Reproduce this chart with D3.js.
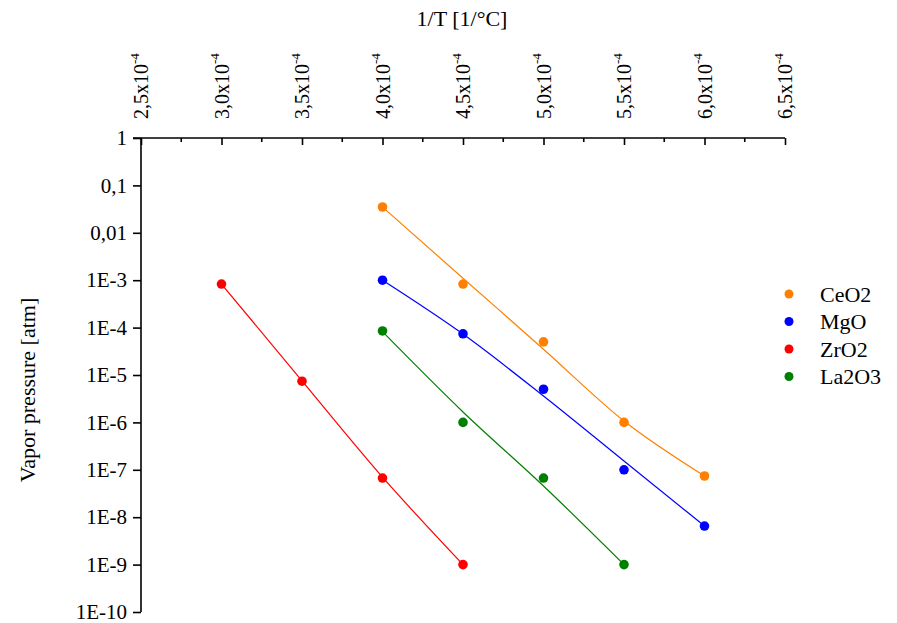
<!DOCTYPE html>
<html>
<head>
<meta charset="utf-8">
<script src="https://cdn.jsdelivr.net/npm/d3@7"></script>
<style>
  body { margin: 0; background: #fff; }
  svg text { font-family: "Liberation Serif", "Times New Roman", serif; }
</style>
</head>
<body>
<div id="chart"></div>
<script>
// measured points (1/T in 1/°C, vapor pressure in atm)
const ceX = [4.0e-4, 4.5e-4, 5.0e-4, 5.5e-4, 6.0e-4];
const ceY = [3.5e-2, 8.3e-4, 5.0e-5, 1.0e-6, 7.4e-8];
const ceFit = [3.5e-2, 1.1e-3, 3.5e-5, 1.07e-6, 7.4e-8];

const mgX = [4.0e-4, 4.5e-4, 5.0e-4, 5.5e-4, 6.0e-4];
const mgY = [1.0e-3, 7.4e-5, 5.0e-6, 1.0e-7, 6.5e-9];
const mgFit = [1.0e-3, 7.3e-5, 3.6e-6, 1.53e-7, 6.5e-9];

const zrX = [3.0e-4, 3.5e-4, 4.0e-4, 4.5e-4];
const zrY = [8.3e-4, 7.4e-6, 6.7e-8, 1.0e-9];
const zrFit = [8.3e-4, 7.5e-6, 7.0e-8, 1.0e-9];

const laX = [4.0e-4, 4.5e-4, 5.0e-4, 5.5e-4];
const laY = [8.5e-5, 1.0e-6, 6.7e-8, 1.0e-9];
const laFit = [8.2e-5, 1.66e-6, 4.55e-8, 1.0e-9];

const seriesNames = ["CeO2", "MgO", "ZrO2", "La2O3"];
const seriesColors = ["#ff8000", "#0000ff", "#ff0000", "#008000"];

const xTicks = [2.5e-4, 3.0e-4, 3.5e-4, 4.0e-4, 4.5e-4, 5.0e-4, 5.5e-4, 6.0e-4, 6.5e-4];
const xTickMain = ["2,5x10", "3,0x10", "3,5x10", "4,0x10", "4,5x10", "5,0x10", "5,5x10", "6,0x10", "6,5x10"];
const yTicks = [1, 1e-1, 1e-2, 1e-3, 1e-4, 1e-5, 1e-6, 1e-7, 1e-8, 1e-9, 1e-10];
const yTickLabels = ["1", "0,1", "0,01", "1E-3", "1E-4", "1E-5", "1E-6", "1E-7", "1E-8", "1E-9", "1E-10"];

const series = seriesNames.map((name, i) => {
    const xs = [ceX, mgX, zrX, laX][i];
    const ys = [ceY, mgY, zrY, laY][i];
    const fs = [ceFit, mgFit, zrFit, laFit][i];
    return {
        name,
        color: seriesColors[i],
        points: xs.map((x, j) => ({ x, y: ys[j] })),
        fit: xs.map((x, j) => ({ x, y: fs[j] }))
    };
});

const width = 897, height = 623;
const svg = d3.select("#chart").append("svg")
    .attr("width", width)
    .attr("height", height);

const x = d3.scaleLinear().domain([2.5e-4, 6.5e-4]).range([141, 785]);
const y = d3.scaleLog().domain([1e-10, 1]).range([612, 138]);

// fit lines
const line = d3.line()
    .x(d => x(d.x))
    .y(d => y(d.y))
    .curve(d3.curveMonotoneX);

svg.append("g").selectAll("path")
    .data(series)
    .join("path")
    .attr("fill", "none")
    .attr("stroke", d => d.color)
    .attr("stroke-width", 1.2)
    .attr("d", d => line(d.fit));

// points
svg.append("g").selectAll("g")
    .data(series)
    .join("g")
    .attr("fill", d => d.color)
    .selectAll("circle")
    .data(d => d.points)
    .join("circle")
    .attr("cx", d => x(d.x))
    .attr("cy", d => y(d.y))
    .attr("r", 4.8);

// left axis
const yAxis = svg.append("g")
    .attr("transform", "translate(141,0)")
    .call(d3.axisLeft(y).tickValues(yTicks).tickSize(8).tickPadding(6)
        .tickFormat((d, i) => yTickLabels[i]));
yAxis.attr("font-family", null).attr("font-size", 21);
yAxis.select(".domain").attr("stroke-width", 1.6).attr("d", "M0,612V138");
yAxis.selectAll(".tick line").attr("stroke-width", 1.6);
yAxis.selectAll(".tick text").attr("fill", "#000");

// top axis: major ticks down, minor ticks between
const minorTicks = d3.range(0, 8).map(i => 2.75e-4 + i * 0.5e-4);
const topAxis = svg.append("g")
    .attr("transform", "translate(0,138)")
    .call(d3.axisBottom(x).tickValues(xTicks).tickSize(7).tickFormat(""));
topAxis.select(".domain").attr("stroke-width", 1.6).attr("d", "M133,0H785");
topAxis.selectAll(".tick line").attr("stroke-width", 1.6);

svg.append("g")
    .attr("transform", "translate(0,138)")
    .selectAll("line")
    .data(minorTicks)
    .join("line")
    .attr("x1", d => x(d)).attr("x2", d => x(d))
    .attr("y1", 0).attr("y2", 4)
    .attr("stroke", "#000")
    .attr("stroke-width", 1.6);

// rotated top tick labels
const xl = svg.append("g").selectAll("text")
    .data(xTicks)
    .join("text")
    .attr("transform", d => `translate(${x(d)},119) rotate(-90)`)
    .attr("dy", "0.35em")
    .attr("font-size", 20)
    .attr("fill", "#000");
xl.append("tspan").text((d, i) => xTickMain[i]);
xl.append("tspan").attr("font-size", 13).attr("dy", "-0.7em").text("-4");

// axis titles
svg.append("text")
    .attr("x", 462).attr("y", 26)
    .attr("text-anchor", "middle")
    .attr("font-size", 22)
    .text("1/T [1/°C]");

svg.append("text")
    .attr("transform", "translate(35,390) rotate(-90)")
    .attr("text-anchor", "middle")
    .attr("font-size", 22)
    .text("Vapor pressure [atm]");

// legend
const legend = svg.append("g")
    .selectAll("g")
    .data(series)
    .join("g")
    .attr("transform", (d, i) => `translate(789,${294 + i * 27.5})`);
legend.append("circle").attr("r", 4.5).attr("fill", d => d.color);
legend.append("text")
    .attr("x", 31).attr("dy", "0.35em")
    .attr("font-size", 22)
    .text(d => d.name);
</script>
</body>
</html>
